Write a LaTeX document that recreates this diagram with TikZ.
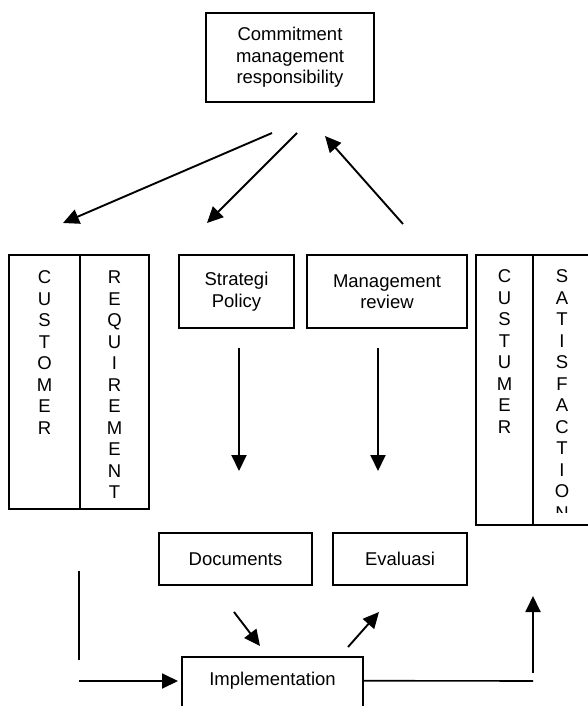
\documentclass[tikz,border=0pt]{standalone}
\usepackage{fontspec}
\setmainfont{Liberation Sans}
\usetikzlibrary{arrows.meta,positioning}

\begin{document}
\begin{tikzpicture}[x=1pt,y=-1pt,
        box/.style={draw, line width=1.6pt, inner sep=0pt, align=center, font=\fontsize{18.5}{21.5}\selectfont},
        letters/.style={inner sep=0pt, align=center, anchor=north, font=\fontsize{18.5}{21.5}\selectfont},
        arr/.style={-{Triangle[length=16pt,width=15pt]}, line width=1.9pt}]

        \clip (0,0) rectangle (588,706);

        \node[box, minimum width=168, minimum height=89] (commit) at (290,57.5) {Commitment\\management\\responsibility};

        \node[box, minimum width=71, minimum height=254] (cust) at (44.5,382) {};
        \node[box, minimum width=69, minimum height=254] (req) at (114.5,382) {};
        \node[letters] (custtext) at ([yshift=-16.4]cust.north) {C\\U\\S\\T\\O\\M\\E\\R};
        \node[letters] (reqtext) at ([yshift=-16.4]req.north) {R\\E\\Q\\U\\I\\R\\E\\M\\E\\N\\T};

        \node[box, minimum width=115, minimum height=73] (strat) at (236.5,291.5) {Strategi\\Policy};
        \node[box, minimum width=160, minimum height=73] (review) at (387,291.5) {Management\\review};

        \node[box, minimum width=57, minimum height=270] (cust2) at (504.5,390) {};
        \node[box, minimum width=58, minimum height=270] (satis) at (562,390) {};
        \node[letters] (cust2text) at ([yshift=-15.4]cust2.north) {C\\U\\S\\T\\U\\M\\E\\R};
        \begin{scope}
            \clip (533,255) rectangle (591,512.5);
            \node[letters] (satistext) at ([yshift=-15.4]satis.north) {S\\A\\T\\I\\S\\F\\A\\C\\T\\I\\O\\N};
        \end{scope}

        \node[box, minimum width=153, minimum height=52] (docs) at (235.5,559) {Documents};
        \node[box, minimum width=134, minimum height=52] (eval) at (400,559) {Evaluasi};

        \node[box, minimum width=181, minimum height=58] (impl) at (272.5,686) {};
        \node[box, draw=none] (impltext) at ([yshift=-24.5]impl.north) {Implementation};

        % arrow ends
        \coordinate (toreq) at (63,223);
        \coordinate (tostrat) at (207,223);
        \coordinate (fromreview) at (403,224);
        \coordinate (tocommit) at (325,136);
        \coordinate (feed) at (79,681);
        \coordinate (toimpl) at (178,681);
        \coordinate (corner) at (533,681);

        \draw[arr] (272,133) -- (toreq);
        \draw[arr] (297,133) -- (tostrat);
        \draw[arr] (fromreview) -- (tocommit);

        \draw[arr] (239,348) -- (239,471);
        \draw[arr] (378,348) -- (378,471);

        \draw[arr] (234,612) -- (260,646);
        \draw[arr] (348,647) -- (379,612);

        \draw[line width=1.6pt] (79,571) -- (79,660);
        \draw[arr] (feed) -- (toimpl);
        \draw[line width=1.6pt] (impl.east |- impltext) -- (corner);
        \draw[arr] (533,673) -- (533,596);

\end{tikzpicture}
\end{document}
